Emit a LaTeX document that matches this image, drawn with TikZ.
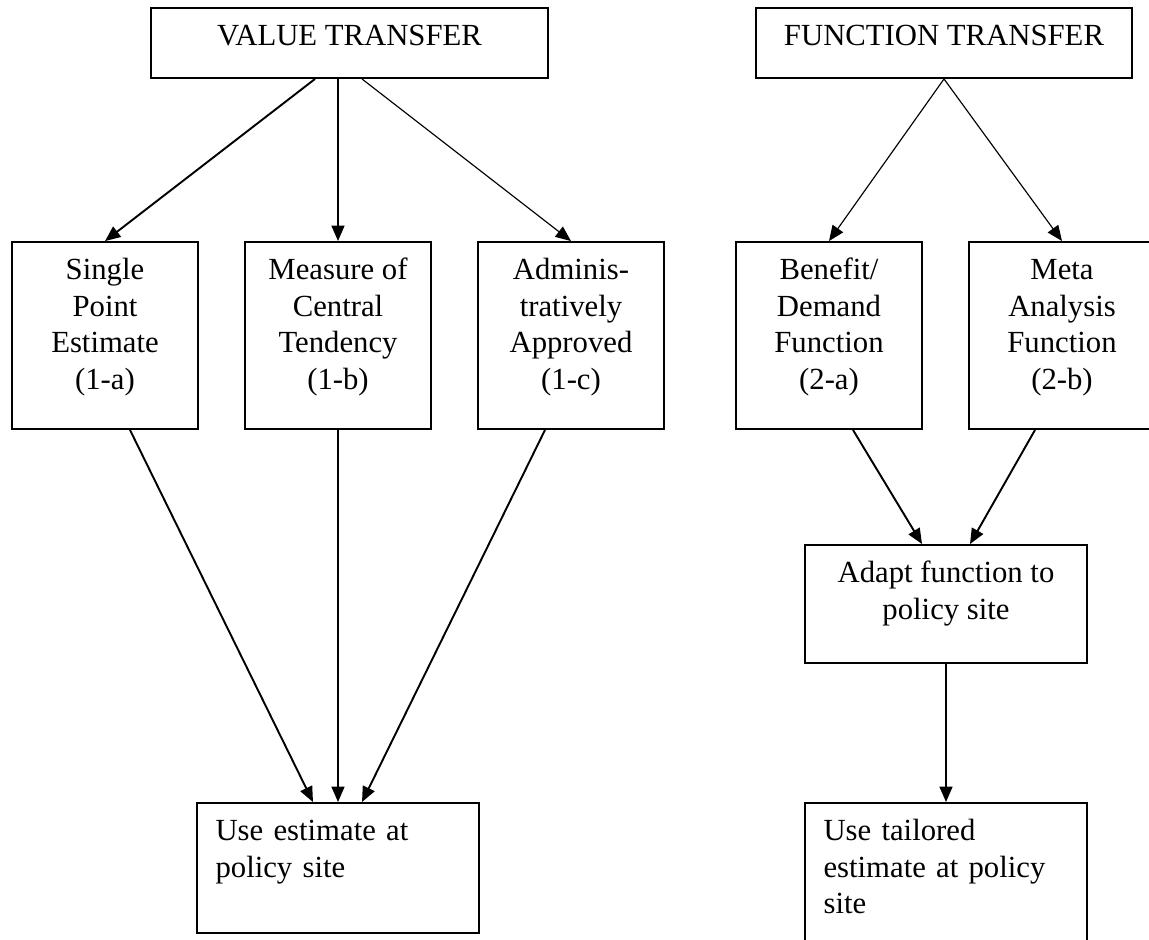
\documentclass[tikz,border=0pt]{standalone}
\usepackage{fontspec}
\setmainfont{Liberation Serif}
\usetikzlibrary{arrows.meta,calc}
\hyphenpenalty=10000
\exhyphenpenalty=10000
\def\pxu{0.390625pt}
\newcommand\firstline{\rule{0pt}{9pt}}
\begin{document}
\begin{tikzpicture}[x=0.390625pt,y=-0.390625pt,
  box/.style={draw,line width=0.75pt,inner sep=0pt},
  rowbox/.style={box,minimum width={186*\pxu},minimum height={187*\pxu}},
  bigbox/.style={box,minimum width={282*\pxu}},
  txt/.style={inner sep=0pt,align=center,font=\fontsize{12}{14.3}\selectfont},
  ltxt/.style={inner sep=0pt,align=left,text width={244*\pxu},font=\fontsize{12}{14.3}\selectfont},
  arr/.style={-{Triangle[length=6pt,width=5pt]},line width=0.75pt},
  thinarr/.style={-{Triangle[length=6pt,width=5pt]},line width=0.45pt}]
\useasboundingbox (0,0) rectangle (1149,939);
\clip (0,0) rectangle (1149,939);
% top boxes
\node[box,minimum width={397*\pxu},minimum height={70*\pxu}] (vt) at (349.5,43) {};
\node[box,minimum width={376*\pxu},minimum height={70*\pxu}] (ft) at (944,43) {};
% row boxes
\node[rowbox] (single) at (105,335.5) {};
\node[rowbox] (measure) at (338,335.5) {};
\node[rowbox] (admin) at (571,335.5) {};
\node[rowbox] (benefit) at (829,335.5) {};
\node[rowbox] (meta) at (1062,335.5) {};
% lower boxes
\node[bigbox,minimum height={118*\pxu}] (adapt) at (946,604) {};
\node[bigbox,minimum height={130*\pxu}] (use) at (338,868) {};
\node[bigbox,minimum height={147*\pxu}] (tailored) at (946,876.5) {};
% texts (first baseline about 38px below the box top)
\node[txt,anchor=north] (tvt) at ($(vt.north)+(0,15)$) {\firstline VALUE TRANSFER};
\node[txt,anchor=north] (tft) at ($(ft.north)+(0,15)$) {\firstline FUNCTION TRANSFER};
\node[txt,anchor=north] (tsingle) at ($(single.north)+(0,15)$) {\firstline Single\\Point\\Estimate\\(1-a)};
\node[txt,anchor=north] (tmeasure) at ($(measure.north)+(0,15)$) {\firstline Measure of\\Central\\Tendency\\(1-b)};
\node[txt,anchor=north] (tadmin) at ($(admin.north)+(0,15)$) {\firstline Adminis-\\tratively\\Approved\\(1-c)};
\node[txt,anchor=north] (tbenefit) at ($(benefit.north)+(0,15)$) {\firstline Benefit/\\Demand\\Function\\(2-a)};
\node[txt,anchor=north] (tmeta) at ($(meta.north)+(0,15)$) {\firstline Meta\\Analysis\\Function\\(2-b)};
\node[txt,anchor=north] (tadapt) at ($(adapt.north)+(0,15)$) {\firstline Adapt function to\\policy site};
\node[ltxt,anchor=north west] (tuse) at ($(use.north west)+(19,15)$) {\firstline Use estimate at policy site};
\node[ltxt,anchor=north west] (ttailored) at ($(tailored.north west)+(19,15)$) {\firstline Use tailored estimate at policy site};
% connectors
\draw[arr] ($(vt.south)+(-34.5,0)$) -- (single.north);
\draw[arr] ($(vt.south)+(-11.5,0)$) -- (measure.north);
\draw[thinarr] ($(vt.south)+(12.5,0)$) -- (admin.north);
\draw[thinarr] (ft.south) -- (benefit.north);
\draw[thinarr] (ft.south) -- (meta.north);
\draw[arr] ($(single.south)+(25,0)$) -- ($(use.north)+(-25,0)$);
\draw[arr] (measure.south) -- (use.north);
\draw[arr] ($(admin.south)+(-26,0)$) -- ($(use.north)+(24,0)$);
\draw[arr] ($(benefit.south)+(24,0)$) -- ($(adapt.north)+(-24,0)$);
\draw[arr] ($(meta.south)+(-27,0)$) -- ($(adapt.north)+(24,0)$);
\draw[arr] (adapt.south) -- (tailored.north);
\end{tikzpicture}
\end{document}
